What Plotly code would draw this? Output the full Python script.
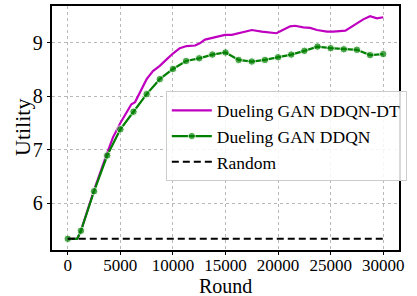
import plotly.graph_objects as go

# Dueling GAN DDQN-DT (magenta)
dt_x = [0, 900, 1250, 2500, 3750, 4300, 5000, 5600, 6050, 6400, 6850, 7500, 8100, 8750,
        9400, 10000, 10650, 11300, 12100, 12550, 13050, 14000, 14950, 15600, 16200, 17500,
        18450, 19850, 20350, 21150, 21600, 22400, 23050, 23700, 24650, 25250, 26400, 26850,
        27500, 28100, 28750, 29400, 30000]
dt_y = [5.33, 5.33, 5.48, 6.24, 6.94, 7.23, 7.50, 7.69, 7.85, 7.89, 8.07, 8.32, 8.47, 8.57,
        8.69, 8.80, 8.90, 8.94, 8.95, 8.99, 9.06, 9.10, 9.15, 9.15, 9.18, 9.24,
        9.21, 9.18, 9.23, 9.31, 9.32, 9.29, 9.28, 9.24, 9.21, 9.21, 9.23, 9.29,
        9.37, 9.44, 9.50, 9.46, 9.48]

# Dueling GAN DDQN (green)
g_x = [0, 900, 1250, 2500, 3750, 5000, 6250, 7500, 8750, 10000, 11250, 12500, 13750, 15000,
       16250, 17500, 18750, 20000, 21250, 22500, 23750, 25000, 26250, 27500, 28750, 30000]
g_y = [5.33, 5.33, 5.48, 6.22, 6.89, 7.38, 7.71, 8.04, 8.32, 8.51, 8.66, 8.71, 8.78, 8.82,
       8.68, 8.65, 8.68, 8.73, 8.78, 8.85, 8.93, 8.90, 8.88, 8.87, 8.77, 8.79]
g_marker = [True, False] + [True] * 24

# Random baseline
r_x = [0, 30000]
r_y = [5.33, 5.33]

x_ticks = [0, 5000, 10000, 15000, 20000, 25000, 30000]
y_ticks = [6, 7, 8, 9]

FONT = "Liberation Serif"

fig = go.Figure()
fig.add_trace(go.Scatter(
    x=dt_x, y=dt_y, mode="lines", name="Dueling GAN DDQN-DT",
    line=dict(color="#bf00bf", width=2.2)))
fig.add_trace(go.Scatter(
    x=g_x, y=g_y, mode="lines+markers", name="Dueling GAN DDQN",
    line=dict(color="#008000", width=2.2),
    marker=dict(color="#008000", size=[7.5 if m else 0 for m in g_marker])))
fig.add_trace(go.Scatter(
    x=r_x, y=r_y, mode="lines", name="Random",
    line=dict(color="black", width=2, dash="7px,4px")))

axis_common = dict(
    showline=True, linecolor="black", linewidth=1.5, mirror=True,
    ticks="outside", ticklen=3.5, tickcolor="black", tickwidth=1,
    showgrid=True, gridcolor="#b8b8b8", gridwidth=1, griddash="dot",
    zeroline=False, automargin=False,
)

fig.update_layout(
    width=417, height=296,
    margin=dict(l=52, r=18, t=6, b=46),
    paper_bgcolor="white", plot_bgcolor="white",
    font=dict(family=FONT, color="black"),
    xaxis=dict(range=[-1500, 31500], tickvals=x_ticks,
               ticktext=[str(v) for v in x_ticks],
               tickfont=dict(size=17, family=FONT),
               ticklabelstandoff=-5,
               **axis_common),
    yaxis=dict(range=[5.12, 9.69], tickvals=y_ticks,
               ticktext=[str(v) for v in y_ticks],
               tickfont=dict(size=20, family=FONT),
               **axis_common),
    legend=dict(x=0.328, y=0.65, xanchor="left", yanchor="top",
                bgcolor="rgba(255,255,255,0.85)", bordercolor="#cccccc", borderwidth=1,
                font=dict(size=17.5, family=FONT), itemwidth=40,
                tracegroupgap=0),
    showlegend=True,
    annotations=[
        dict(text="Round", xref="paper", yref="paper", x=0.5, y=0.0,
             yshift=-36, xanchor="center", yanchor="middle", showarrow=False,
             font=dict(size=20, family=FONT)),
        dict(text="Utility", xref="paper", yref="paper", x=0.0, y=0.5,
             xshift=-30, xanchor="center", yanchor="middle", textangle=-90,
             showarrow=False, font=dict(size=22, family=FONT)),
    ],
)

fig.write_html("out.html", config={"displayModeBar": False},
               post_script="document.body.style.margin='0';document.body.style.overflow='hidden';")
